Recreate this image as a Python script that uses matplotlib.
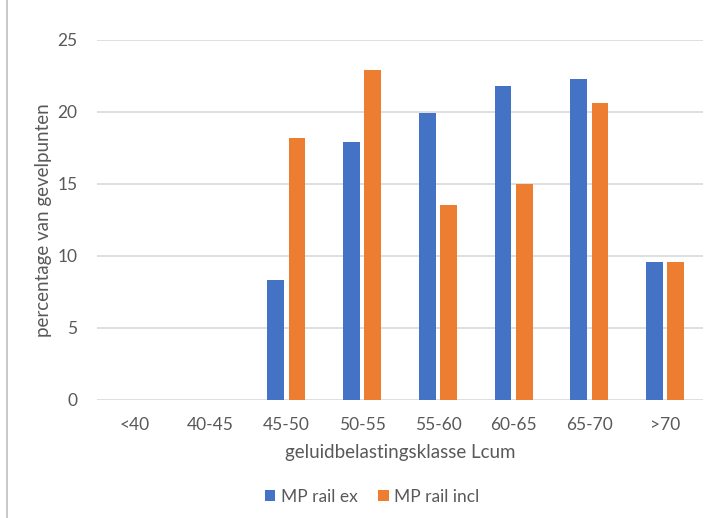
import numpy as np
import matplotlib

matplotlib.use('Agg')
import matplotlib.pyplot as plt
from matplotlib.lines import Line2D

plt.rcParams['font.family'] = ['Lato', 'DejaVu Sans']

# geluidbelastingsklassen en percentages
klassen = ['<40', '40-45', '45-50', '50-55', '55-60', '60-65', '65-70', '>70']
rail_ex = [0, 0, 8.3, 17.9, 19.9, 21.8, 22.3, 9.6]
rail_incl = [0, 0, 18.2, 22.9, 13.5, 15.0, 20.6, 9.55]
y_ticks = [0, 5, 10, 15, 20, 25]

blauw = '#4472C4'
oranje = '#ED7D31'
grijs = '#595959'

fig = plt.figure(figsize=(7.08, 5.18), dpi=100)
ax = fig.add_axes([0.137, 0.228, 0.856, 0.695])

x = np.arange(len(klassen))
ax.bar(x - 0.14, rail_ex, width=0.22, color=blauw, label='MP rail ex', zorder=3)
ax.bar(x + 0.14, rail_incl, width=0.22, color=oranje, label='MP rail incl', zorder=3)

ax.set_xlim(-0.5, len(klassen) - 0.5)
ax.set_ylim(0, 25)
ax.set_yticks(y_ticks)
ax.set_xticks(x)
ax.set_xticklabels(klassen)
ax.yaxis.grid(True, color='#D9D9D9', linewidth=1.2, zorder=0)
ax.tick_params(axis='both', length=0, labelsize=12.5, labelcolor=grijs)
ax.tick_params(axis='y', pad=14)
ax.tick_params(axis='x', pad=12)
for s in ax.spines.values():
    s.set_visible(False)

ax.set_xlabel('geluidbelastingsklasse Lcum', fontsize=13.5, color=grijs, labelpad=8)
ax.set_ylabel('percentage van gevelpunten', fontsize=13.5, color=grijs, labelpad=4)

fig.legend(loc='center', bbox_to_anchor=(372 / 708, 1 - 497 / 518), ncol=2,
           frameon=False, fontsize=12.5, labelcolor=grijs, handlelength=0.6,
           handleheight=0.6, handletextpad=0.3, columnspacing=1.2)

# grijze rand links
fig.add_artist(Line2D([7 / 708, 7 / 708], [0, 1], color='#BFBFBF', linewidth=1.2))

fig.savefig('out.png', dpi=100)
